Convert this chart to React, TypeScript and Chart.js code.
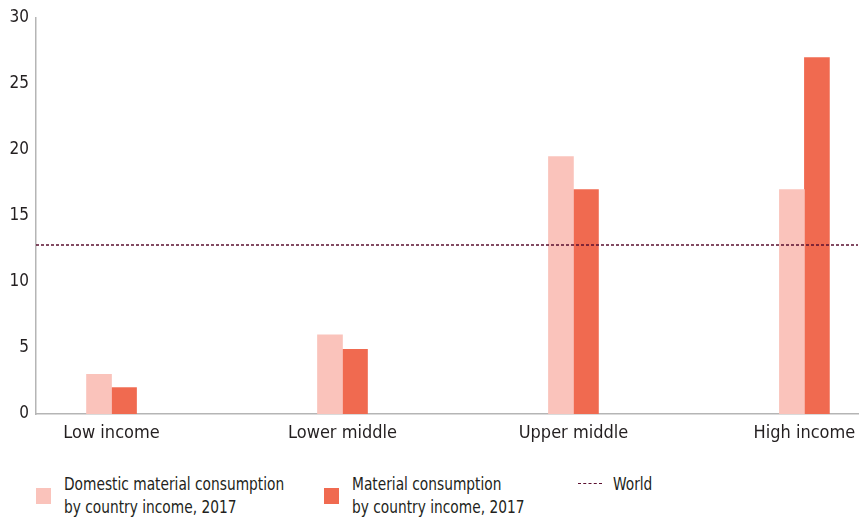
import React, { useEffect, useRef } from "react";
import { Chart, registerables } from "chart.js";

Chart.register(...registerables);

const categories = ["Low income", "Lower middle", "Upper middle", "High income"];
const domesticValues = [3, 6, 19.5, 17];
const materialValues = [2, 4.9, 17, 27];
const worldValue = 12.8;
const yTicks = [0, 5, 10, 15, 20, 25, 30];

const FONT = "'Liberation Sans Narrow', 'DejaVu Sans Condensed', 'Roboto Condensed', sans-serif";
const TEXT = "#231f20";
const AXIS = "#b5b5b5";
const LIGHT = "#fac3bb";
const DARK = "#f06a50";
const WORLD = "#5b1030";

const X_MIN = -0.327;
const X_MAX = 3.232;

export default function App() {
  const ref = useRef<HTMLCanvasElement | null>(null);

  useEffect(() => {
    document.body.style.margin = "0";
    const canvas = ref.current;
    if (!canvas) return;
    const chart = new Chart(canvas, {
      type: "bar",
      data: {
        datasets: [
          {
            label: "Domestic material consumption by country income, 2017",
            data: categories.map((_, i) => ({ x: i, y: domesticValues[i] })),
            backgroundColor: LIGHT,
            borderWidth: 0,
            barThickness: 25,
            order: 2,
          },
          {
            label: "Material consumption by country income, 2017",
            data: categories.map((_, i) => ({ x: i, y: materialValues[i] })),
            backgroundColor: DARK,
            borderWidth: 0,
            barThickness: 25,
            order: 2,
          },
          {
            type: "line",
            label: "World",
            data: [
              { x: X_MIN, y: worldValue },
              { x: X_MAX, y: worldValue },
            ],
            borderColor: WORLD,
            borderWidth: 1.5,
            borderDash: [3, 2],
            pointRadius: 0,
            fill: false,
            order: 1,
          } as any,
        ],
      },
      options: {
        responsive: false,
        animation: false,
        maintainAspectRatio: false,
        layout: { padding: { top: 18, right: 1, left: 0, bottom: 0 } },
        plugins: {
          legend: { display: false },
          tooltip: { enabled: false },
        },
        scales: {
          x: {
            type: "linear",
            min: X_MIN,
            max: X_MAX,
            offset: false,
            grid: { display: false, drawTicks: false },
            border: { display: true, color: AXIS, width: 1.5 },
            afterFit: (s: any) => {
              s.height = 30;
              s.paddingLeft = 0;
              s.paddingRight = 0;
            },
            ticks: {
              stepSize: 1,
              includeBounds: false,
              autoSkip: false,
              maxRotation: 0,
              padding: 9,
              color: TEXT,
              font: { family: FONT, size: 18 },
              callback: (v: any) => {
                const n = Number(v);
                return Number.isInteger(n) && categories[n] ? categories[n] : "";
              },
            },
          },
          y: {
            min: 0,
            max: 30,
            afterBuildTicks: (s: any) => {
              s.ticks = yTicks.map((v) => ({ value: v }));
            },
            afterFit: (s: any) => {
              s.width = 36;
            },
            grid: { display: false, drawTicks: false },
            border: { display: true, color: AXIS, width: 1.5 },
            ticks: {
              padding: 7,
              color: TEXT,
              font: { family: FONT, size: 17 },
            },
          },
        },
      },
    });
    return () => chart.destroy();
  }, []);

  const legendText: React.CSSProperties = {
    position: "absolute",
    fontFamily: FONT,
    fontSize: 18,
    lineHeight: "23px",
    color: TEXT,
    whiteSpace: "nowrap",
    transform: "scaleX(0.85)",
    transformOrigin: "left top",
  };

  return (
    <div style={{ position: "relative", width: 859, height: 520, background: "#fff" }}>
      <canvas ref={ref} width={859} height={444} style={{ display: "block", width: 859, height: 444 }} />
      <div style={{ position: "absolute", left: 36, top: 488, width: 15, height: 16, background: LIGHT }} />
      <div style={{ ...legendText, left: 64, top: 472 }}>
        Domestic material consumption
        <br />
        by country income, 2017
      </div>
      <div style={{ position: "absolute", left: 324, top: 488, width: 15, height: 16, background: DARK }} />
      <div style={{ ...legendText, left: 352, top: 472 }}>
        Material consumption
        <br />
        by country income, 2017
      </div>
      <div
        style={{
          position: "absolute",
          left: 578,
          top: 483,
          width: 24,
          height: 0,
          borderTop: `1.5px dashed ${WORLD}`,
        }}
      />
      <div style={{ ...legendText, left: 613, top: 472 }}>World</div>
    </div>
  );
}
